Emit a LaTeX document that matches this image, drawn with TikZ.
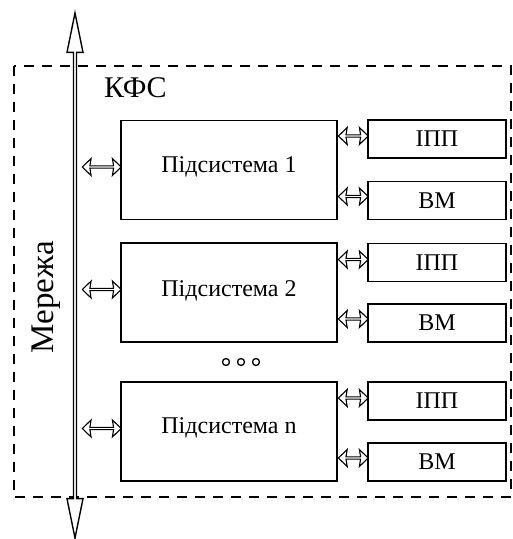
\documentclass[tikz,border=0pt]{standalone}
\usepackage{fontspec}
\setmainfont{Liberation Serif}
\usetikzlibrary{positioning,arrows.meta,shapes.arrows,calc}
\tikzset{
  subbox/.style={draw, line width=1.2pt, minimum width=216pt, minimum height=99pt, inner sep=0pt, font=\fontsize{24}{28}\selectfont},
  smallbox/.style={draw, line width=1.2pt, minimum width=138pt, minimum height=38pt, inner sep=0pt, font=\fontsize{24}{28}\selectfont},
  linkarrow/.style={draw, line width=1.1pt, fill=white, double arrow, double arrow head extend=3.5pt, double arrow head indent=1.2pt, double arrow tip angle=88, minimum width=17pt, inner sep=0pt},
  link/.style={to path={let \p1=(\tikztostart), \p2=(\tikztotarget), \n1={veclen(\x2-\x1,\y2-\y1)} in node[linkarrow, minimum height=\n1, anchor=west] at (\p1) {}}},
  bus/.style={draw, line width=1.4pt, double arrow, double arrow tip angle=23, double arrow head extend=3pt, double arrow head indent=0pt, minimum width=16pt, minimum height=525pt, inner sep=0pt, rotate=90},
  frame/.style={line width=1.7pt, dash pattern=on 10pt off 8pt},
  dotc/.style={draw, circle, line width=1.3pt, minimum size=7pt, inner sep=0pt}
}
\begin{document}
\begin{tikzpicture}[x=1pt, y=-1pt]
\useasboundingbox (0,0) rectangle (513,539);
% outer frame
\draw[frame] (14,66) rectangle (511,497);
\node[anchor=west, font=\fontsize{30}{34}\selectfont, inner sep=0pt] (kfs) at (104,88) {КФС};
% network bus
\node[bus, fill=white] (bus) at (75,275.5) {};
\coordinate (busR) at (81.5,0);
\node[rotate=90, font=\fontsize{33}{36}\selectfont, inner sep=0pt] (net) at (46,297) {Мережа};
% subsystems
\node[subbox] (sub1) at (229,170) {};
\node[subbox] (sub2) at (229,292.5) {};
\node[subbox] (sub3) at (229,431.5) {};
\node[font=\fontsize{24}{28}\selectfont] (t1) at (229,167) {Підсистема 1};
\node[font=\fontsize{24}{28}\selectfont] (t2) at (229,291) {Підсистема 2};
\node[font=\fontsize{24}{28}\selectfont] (t3) at (229,428) {Підсистема n};
\node[smallbox] (ipp1) at (437,139) {ІПП};
\node[smallbox] (vm1) at (437,200.5) {ВМ};
\node[smallbox] (ipp2) at (437,262.5) {ІПП};
\node[smallbox] (vm2) at (437,323) {ВМ};
\node[smallbox] (ipp3) at (437,401) {ІПП};
\node[smallbox] (vm3) at (437,462) {ВМ};
\foreach \s in {1,2,3}{
  \path ([yshift=3pt]busR |- sub\s.west) to[link] ([yshift=3pt]sub\s.west);
  \path ([yshift=3pt]sub\s.east |- ipp\s) to[link] ([yshift=3pt]ipp\s.west);
  \path ([yshift=4pt]sub\s.east |- vm\s) to[link] ([yshift=4pt]vm\s.west);
}
% dots
\foreach \x/\n in {226/a,241/b,256/c}{\node[dotc] (dot\n) at (\x,362) {};}
\end{tikzpicture}
\end{document}
